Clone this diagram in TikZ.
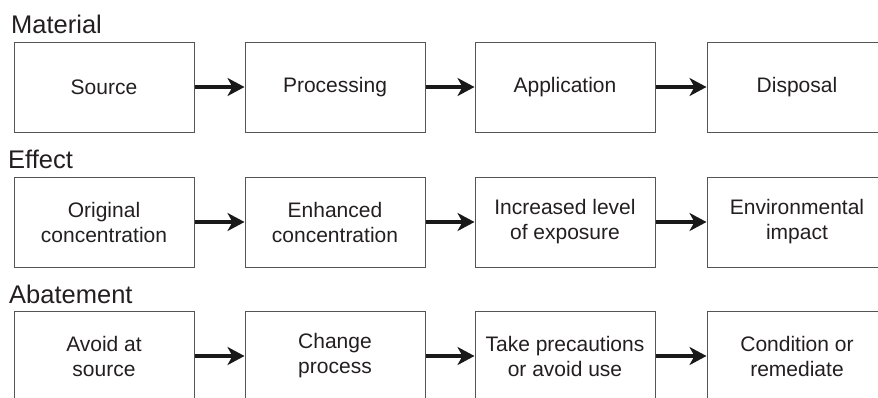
\documentclass[tikz,border=0pt]{standalone}
\usepackage{fontspec}
\setmainfont{Liberation Sans}
\usetikzlibrary{arrows.meta}
\definecolor{txt}{HTML}{231F20}
\definecolor{edge}{HTML}{555555}
\begin{document}
\begin{tikzpicture}[x=1pt,y=-1pt,
  stagebox/.style={draw=edge, line width=1pt, minimum width=180pt, minimum height=90pt,
    inner sep=0pt, align=center, text=txt, font=\fontsize{21}{25}\selectfont},
  rowlabel/.style={anchor=base west, inner sep=0pt, text=txt, font=\fontsize{25.5}{30}\selectfont},
  flow/.style={line width=4pt, draw=black!90, -{Stealth[length=17pt, width=18pt, inset=5pt]}, shorten <=0.5pt}
]
\useasboundingbox (0,0) rectangle (878,397);
\clip (0,0) rectangle (878,397);
% row labels
\node[rowlabel] (lm) at (11,33) {Material};
\node[rowlabel] (le) at (8,168) {Effect};
\node[rowlabel] (la) at (9,303) {Abatement};
% row 1
\node[stagebox] (m1) at (104,87) {Source};
\node[stagebox] (m2) at (335,87) {Processing};
\node[stagebox] (m3) at (565,87) {Application};
\node[stagebox] (m4) at (797,87) {Disposal};
% row 2
\node[stagebox] (e1) at (104,222) {Original\\concentration};
\node[stagebox] (e2) at (335,222) {Enhanced\\concentration};
\node[stagebox] (e3) at (565,222) {Increased level\\of exposure};
\node[stagebox] (e4) at (797,222) {Environmental\\impact};
% row 3
\node[stagebox] (a1) at (104,356) {Avoid at\\source};
\node[stagebox] (a2) at (335,356) {Change\\process};
\node[stagebox] (a3) at (565,356) {Take precautions\\or avoid use};
\node[stagebox] (a4) at (797,356) {Condition or\\remediate};
% arrows
\foreach \r in {m,e,a}{
  \draw[flow] (\r1.east) -- (\r2.west);
  \draw[flow] (\r2.east) -- (\r3.west);
  \draw[flow] (\r3.east) -- (\r4.west);
}
\end{tikzpicture}
\end{document}
